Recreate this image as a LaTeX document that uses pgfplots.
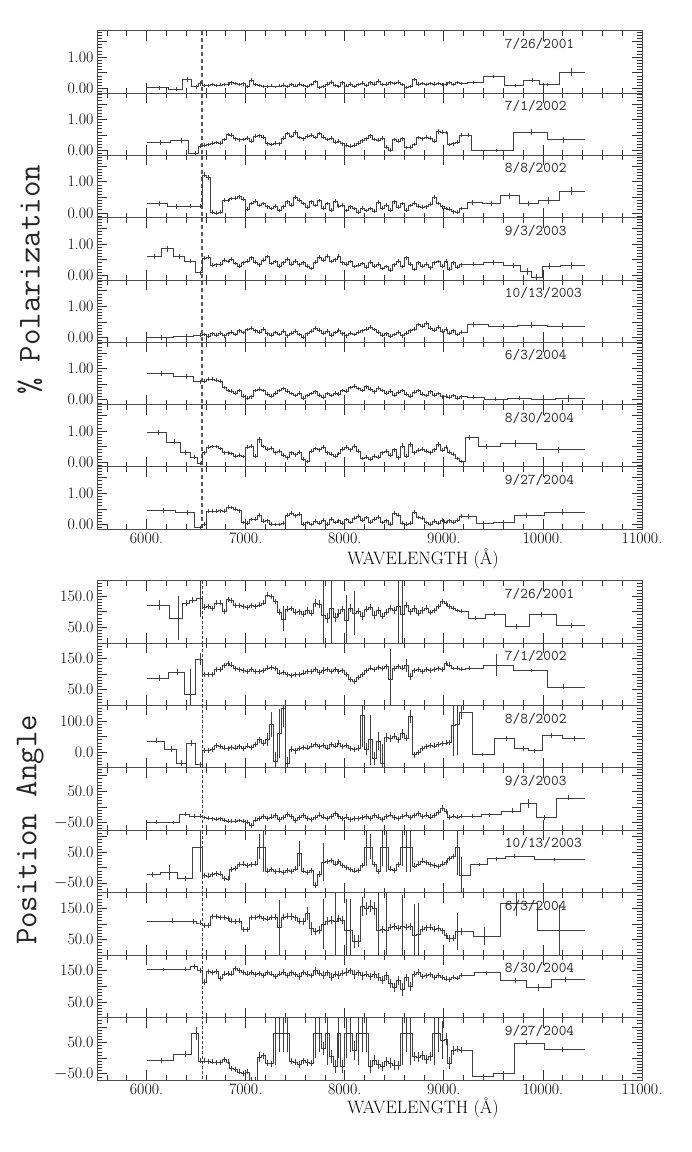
\documentclass[border=0pt]{standalone}
\usepackage{pgfplots}
\usepackage{pgfplotstable}
\pgfplotsset{compat=1.18}

\newcommand{\tickfont}{\fontsize{16}{16}\selectfont}
\newcommand{\datefont}{\ttfamily\fontsize{15}{15}\selectfont}
\newcommand{\datelabel}[1]{\node[anchor=west,font=\datefont,black!85] at (rel axis cs:0.742,0.79) {#1};}

\pgfplotsset{
  panel/.style={
    width=545bp, scale only axis, xmin=5500, xmax=11000,
    scaled x ticks=false, scaled y ticks=false,
    axis line style={black!70, line width=0.7bp},
    xtick={6000,7000,8000,9000,10000,11000},
    minor xtick={5600,5800,6200,6400,6600,6800,7200,7400,7600,7800,8200,8400,8600,8800,9200,9400,9600,9800,10200,10400,10600,10800},
    xticklabels={},
    tick align=inside, xtick pos=both, ytick pos=both,
    major tick length=10bp, minor tick length=5bp,
    every tick/.style={black!80, line width=0.7bp},
    tick label style={font=\tickfont},
    clip mode=individual,
    anchor=north west,
  },
  pol/.style={panel, height=62.3bp, ymin=-0.15, ymax=1.85,
    ytick={0,0.5,1,1.5}, yticklabels={0.00,,1.00,},
    minor ytick={-0.1,0.1,0.2,0.3,0.4,0.6,0.7,0.8,0.9,1.1,1.2,1.3,1.4,1.6,1.7,1.8}},
  pa/.style={panel, height=62.44bp, minor ytick={-70,-60,...,200}},
  pa0/.style={pa, ymin=0, ymax=200, ytick={0,50,100,150,200}, yticklabels={,50.0,,150.0,}},
  data/.style={black!75, line width=0.6bp, const plot mark mid, mark=none,
    error bars/y dir=both, error bars/y explicit, error bars/error mark=none,
    error bars/error bar style={line width=0.6bp}},
  halpha/.style={black!65, line width=1.7bp, dash pattern=on 4bp off 3bp},
  halphb/.style={black!75, line width=0.5bp, dash pattern=on 3bp off 2bp},
}

% ---------------- % polarization ----------------
\pgfplotstableread[row sep=\\]{
x y e\\
6000 .02 0\\ 6125 .02 .06\\ 6305 -.02 .05\\ 6410 .28 .07\\ 6500 .05 .06\\
6540 .15 .07\\ 6580 .10 .05\\ 6620 .10 .05\\ 6660 .12 .06\\ 6700 .10 .05\\ 6740 .11 .05\\ 6780 .12 .06\\ 6820 .14 .05\\ 6860 .18 .06\\ 6900 .16 .05\\
6940 .12 .05\\ 6980 .15 .06\\ 7020 .05 .05\\ 7060 .26 .06\\ 7100 .12 .05\\ 7140 .10 .05\\ 7180 .05 .05\\ 7220 .06 .04\\ 7260 .08 .05\\ 7300 .05 .04\\
7340 .08 .05\\ 7380 .10 .06\\ 7420 .06 .05\\ 7460 .12 .05\\ 7500 .08 .05\\ 7540 .14 .06\\ 7580 .10 .05\\ 7620 .06 .05\\ 7660 .12 .06\\ 7700 .22 .06\\
7740 .04 .05\\ 7780 .06 .05\\ 7820 .14 .06\\ 7860 .20 .06\\ 7900 .10 .05\\ 7940 .05 .05\\ 7980 .18 .06\\ 8020 .08 .05\\ 8060 .14 .05\\ 8100 .06 .05\\
8140 .12 .06\\ 8180 .16 .06\\ 8220 .10 .05\\ 8260 .18 .06\\ 8300 .14 .05\\ 8340 .24 .06\\ 8380 .12 .05\\ 8420 .14 .05\\ 8460 .18 .06\\ 8500 .16 .05\\
8540 .20 .06\\ 8580 .12 .05\\ 8620 .04 .05\\ 8660 .06 .05\\ 8700 .28 .06\\ 8740 .14 .05\\ 8780 .16 .05\\ 8820 .12 .05\\ 8860 .16 .05\\ 8900 .14 .05\\
8940 .16 .05\\ 8980 .12 .04\\ 9020 .14 .05\\ 9060 .18 .05\\ 9100 .12 .05\\ 9140 .20 .05\\ 9180 .16 .05\\
9300 .20 .05\\ 9495 .38 .06\\ 9718 .09 .06\\ 9895 .27 .07\\ 10040 .12 .06\\ 10282 .52 .12\\ 10426 .52 0\\
}\tPa

\pgfplotstableread[row sep=\\]{
x y e\\
6000 .27 0\\ 6135 .27 .08\\ 6350 .33 .07\\ 6495 -.08 .06\\
6540 .15 .06\\ 6580 .18 .06\\ 6620 .20 .06\\ 6660 .25 .06\\ 6700 .26 .06\\ 6740 .24 .06\\ 6780 .36 .06\\ 6820 .52 .06\\ 6860 .50 .06\\ 6900 .38 .06\\
6940 .35 .06\\ 6980 .36 .06\\ 7020 .40 .06\\ 7060 .30 .06\\ 7100 .46 .06\\ 7140 .48 .06\\ 7180 .44 .06\\ 7220 .22 .06\\ 7260 .20 .06\\ 7300 .24 .06\\
7340 .22 .06\\ 7380 .40 .06\\ 7420 .55 .06\\ 7460 .45 .06\\ 7500 .58 .07\\ 7540 .42 .06\\ 7580 .38 .06\\ 7620 .46 .06\\ 7660 .50 .06\\ 7700 .42 .06\\
7740 .55 .06\\ 7780 .44 .06\\ 7820 .36 .06\\ 7860 .40 .06\\ 7900 .28 .06\\ 7940 .30 .06\\ 7980 .22 .06\\ 8020 .18 .06\\ 8060 .15 .06\\ 8100 .18 .06\\
8140 .24 .06\\ 8180 .32 .06\\ 8220 .38 .06\\ 8260 .48 .06\\ 8300 .36 .06\\ 8340 .34 .06\\ 8380 .40 .06\\ 8420 .12 .06\\ 8460 .02 .06\\ 8500 .36 .06\\
8540 .30 .06\\ 8580 .38 .06\\ 8620 .10 .06\\ 8660 .12 .06\\ 8700 .20 .06\\ 8740 .42 .06\\ 8780 .38 .06\\ 8820 .44 .06\\ 8860 .40 .06\\ 8900 .30 .06\\
8940 .62 .08\\ 8980 .60 .06\\ 9020 .58 .06\\ 9060 .20 .06\\ 9100 .22 .06\\ 9140 .28 .06\\ 9180 .50 .07\\
9250 .50 .07\\ 9300 0 0\\ 9525 0 .06\\ 9878 .60 .10\\ 10210 .35 .10\\ 10426 .35 0\\
}\tPb

\pgfplotstableread[row sep=\\]{
x y e\\
6000 .30 0\\ 6125 .30 .07\\ 6300 .20 .08\\ 6440 .22 .06\\
6540 .22 .06\\ 6580 1.22 .08\\ 6620 1.15 .08\\ 6660 .02 .06\\ 6700 .00 .06\\ 6740 .02 .06\\ 6780 .42 .06\\ 6820 .40 .06\\ 6860 .46 .06\\ 6900 .48 .06\\
6940 .52 .06\\ 6980 .44 .06\\ 7020 .12 .06\\ 7060 .30 .06\\ 7100 .38 .06\\ 7140 .24 .06\\ 7180 .30 .06\\ 7220 .20 .06\\ 7260 .14 .06\\ 7300 .22 .06\\
7340 .08 .06\\ 7380 .20 .06\\ 7420 .36 .06\\ 7460 .26 .06\\ 7500 .50 .06\\ 7540 .42 .06\\ 7580 .30 .06\\ 7620 .18 .06\\ 7660 .36 .06\\ 7700 .24 .06\\
7740 .40 .06\\ 7780 .16 .06\\ 7820 .30 .06\\ 7860 .10 .06\\ 7900 .38 .06\\ 7940 .22 .06\\ 7980 .26 .06\\ 8020 .08 .06\\ 8060 .20 .06\\ 8100 .14 .06\\
8140 .02 .06\\ 8180 .16 .06\\ 8220 .08 .06\\ 8260 .14 .06\\ 8300 .06 .06\\ 8340 .34 .06\\ 8380 .16 .06\\ 8420 .26 .06\\ 8460 .10 .06\\ 8500 .36 .06\\
8540 .18 .06\\ 8580 .30 .06\\ 8620 .10 .06\\ 8660 .24 .06\\ 8700 .32 .06\\ 8740 .22 .06\\ 8780 .18 .06\\ 8820 .20 .06\\ 8860 .28 .06\\ 8900 .50 .06\\
8940 .30 .06\\ 8980 .20 .06\\ 9020 .14 .06\\ 9060 .12 .06\\ 9100 .04 .06\\ 9140 .02 .06\\ 9180 .14 .06\\
9290 .33 .07\\ 9480 .30 .07\\ 9660 .55 .10\\ 9855 .30 .08\\ 10050 .40 .10\\ 10290 .70 .14\\ 10426 .70 0\\
}\tPc

\pgfplotstableread[row sep=\\]{
x y e\\
6000 .60 0\\ 6080 .60 .08\\ 6210 .85 .10\\ 6330 .60 .08\\ 6440 .45 .07\\
6540 .08 .06\\ 6580 .55 .06\\ 6620 .58 .06\\ 6660 .32 .06\\ 6700 .34 .06\\ 6740 .36 .06\\ 6780 .48 .06\\ 6820 .44 .06\\ 6860 .52 .06\\ 6900 .38 .06\\
6940 .30 .06\\ 6980 .40 .06\\ 7020 .46 .06\\ 7060 .56 .06\\ 7100 .42 .06\\ 7140 .34 .06\\ 7180 .48 .06\\ 7220 .60 .06\\ 7260 .38 .06\\ 7300 .44 .06\\
7340 .30 .06\\ 7380 .40 .06\\ 7420 .52 .06\\ 7460 .36 .06\\ 7500 .46 .06\\ 7540 .34 .06\\ 7580 .40 .06\\ 7620 .30 .06\\ 7660 .22 .06\\ 7700 .42 .06\\
7740 .58 .06\\ 7780 .48 .06\\ 7820 .62 .06\\ 7860 .44 .06\\ 7900 .50 .06\\ 7940 .62 .06\\ 7980 .40 .06\\ 8020 .36 .06\\ 8060 .44 .06\\ 8100 .28 .06\\
8140 .32 .06\\ 8180 .38 .06\\ 8220 .26 .06\\ 8260 .42 .06\\ 8300 .30 .06\\ 8340 .36 .06\\ 8380 .22 .06\\ 8420 .28 .06\\ 8460 .16 .06\\ 8500 .34 .06\\
8540 .46 .06\\ 8580 .28 .06\\ 8620 .56 .06\\ 8660 .36 .06\\ 8700 .18 .06\\ 8740 .40 .06\\ 8780 .30 .06\\ 8820 .36 .06\\ 8860 .24 .06\\ 8900 .40 .06\\
8940 .44 .06\\ 8980 .30 .06\\ 9020 .46 .06\\ 9060 .20 .06\\ 9100 .40 .06\\ 9140 .26 .06\\ 9180 .34 .06\\
9300 .36 .07\\ 9500 .40 .08\\ 9700 .32 .08\\ 9840 .12 .10\\ 9935 -.08 .12\\ 10060 .30 .10\\ 10290 .32 .12\\ 10426 .32 0\\
}\tPd

\pgfplotstableread[row sep=\\]{
x y e\\
6000 0 0\\ 6150 0 .07\\ 6400 .05 .06\\
6540 .08 .06\\ 6580 .10 .06\\ 6620 .04 .06\\ 6660 .12 .06\\ 6700 .08 .06\\ 6740 .14 .06\\ 6780 .06 .06\\ 6820 .12 .06\\ 6860 .18 .06\\ 6900 .10 .06\\
6940 .22 .06\\ 6980 .16 .06\\ 7020 .26 .06\\ 7060 .30 .06\\ 7100 .22 .06\\ 7140 .18 .06\\ 7180 .28 .06\\ 7220 .12 .06\\ 7260 .08 .06\\ 7300 .16 .06\\
7340 .10 .06\\ 7380 .20 .06\\ 7420 .06 .06\\ 7460 .14 .06\\ 7500 .20 .06\\ 7540 .10 .06\\ 7580 .02 .06\\ 7620 .12 .06\\ 7660 .20 .06\\ 7700 .30 .06\\
7740 .24 .06\\ 7780 .14 .06\\ 7820 .20 .06\\ 7860 .08 .06\\ 7900 .16 .06\\ 7940 .24 .06\\ 7980 .12 .06\\ 8020 .06 .06\\ 8060 .14 .06\\ 8100 .10 .06\\
8140 .18 .06\\ 8180 .22 .06\\ 8220 .28 .06\\ 8260 .34 .06\\ 8300 .26 .06\\ 8340 .18 .06\\ 8380 .08 .06\\ 8420 .12 .06\\ 8460 .04 .06\\ 8500 .10 .06\\
8540 .18 .06\\ 8580 .06 .06\\ 8620 .14 .06\\ 8660 .22 .06\\ 8700 .28 .06\\ 8740 .42 .06\\ 8780 .36 .06\\ 8820 .46 .06\\ 8860 .30 .06\\ 8900 .24 .06\\
8940 .34 .06\\ 8980 .20 .06\\ 9020 .28 .06\\ 9060 .14 .06\\ 9100 .22 .06\\ 9140 .10 .06\\ 9180 .18 .06\\
9300 .42 .07\\ 9600 .36 .08\\ 9880 .40 .10\\ 10200 .36 .10\\ 10426 .36 0\\
}\tPe

\pgfplotstableread[row sep=\\]{
x y e\\
6000 .85 0\\ 6150 .85 .07\\ 6400 .75 .08\\
6540 .58 .06\\ 6580 .60 .06\\ 6620 .66 .06\\ 6660 .66 .06\\ 6700 .64 .06\\ 6740 .60 .06\\ 6780 .40 .06\\ 6820 .30 .06\\ 6860 .28 .06\\ 6900 .22 .06\\
6940 .30 .06\\ 6980 .12 .06\\ 7020 .06 .06\\ 7060 .10 .06\\ 7100 .30 .06\\ 7140 .34 .06\\ 7180 .30 .06\\ 7220 .18 .06\\ 7260 .12 .06\\ 7300 .22 .06\\
7340 .30 .06\\ 7380 .36 .06\\ 7420 .28 .06\\ 7460 .20 .06\\ 7500 .14 .06\\ 7540 .22 .06\\ 7580 .06 .06\\ 7620 .14 .06\\ 7660 .20 .06\\ 7700 .26 .06\\
7740 .16 .06\\ 7780 .08 .06\\ 7820 .20 .06\\ 7860 .14 .06\\ 7900 .22 .06\\ 7940 .18 .06\\ 7980 .30 .06\\ 8020 .28 .06\\ 8060 .40 .06\\ 8100 .44 .06\\
8140 .36 .06\\ 8180 .30 .06\\ 8220 .42 .06\\ 8260 .34 .06\\ 8300 .26 .06\\ 8340 .38 .06\\ 8380 .30 .06\\ 8420 .22 .06\\ 8460 .28 .06\\ 8500 .16 .06\\
8540 .24 .06\\ 8580 .30 .06\\ 8620 .18 .06\\ 8660 .12 .06\\ 8700 .24 .06\\ 8740 .30 .06\\ 8780 .18 .06\\ 8820 .14 .06\\ 8860 .26 .06\\ 8900 .16 .06\\
8940 .20 .06\\ 8980 .10 .06\\ 9020 .12 .06\\ 9060 .08 .06\\ 9100 .14 .06\\ 9140 .06 .06\\ 9180 .10 .06\\
9300 .08 .06\\ 9520 .02 .06\\ 9760 .05 .06\\ 10000 .03 .08\\ 10260 .04 .10\\ 10426 .04 0\\
}\tPf

\pgfplotstableread[row sep=\\]{
x y e\\
6000 .96 0\\ 6115 .96 .08\\ 6285 .65 .08\\ 6395 .31 .07\\ 6485 .16 .06\\
6540 -.04 .06\\ 6580 .30 .06\\ 6620 .48 .06\\ 6660 .50 .06\\ 6700 .50 .06\\ 6740 .44 .06\\ 6780 .30 .06\\ 6820 .30 .06\\ 6860 .28 .06\\ 6900 .20 .06\\
6940 .22 .06\\ 6980 .18 .06\\ 7020 .48 .06\\ 7060 .52 .06\\ 7100 .20 .06\\ 7140 .72 .10\\ 7180 .50 .06\\ 7220 .42 .06\\ 7260 .46 .06\\ 7300 .30 .06\\
7340 .36 .06\\ 7380 .22 .06\\ 7420 .14 .06\\ 7460 .30 .06\\ 7500 .24 .06\\ 7540 .32 .06\\ 7580 .10 .06\\ 7620 .02 .06\\ 7660 .36 .06\\ 7700 .44 .06\\
7740 .40 .06\\ 7780 .48 .06\\ 7820 .30 .06\\ 7860 .26 .06\\ 7900 .20 .06\\ 7940 .28 .06\\ 7980 .42 .06\\ 8020 .48 .06\\ 8060 .40 .06\\ 8100 .52 .06\\
8140 .36 .06\\ 8180 .12 .06\\ 8220 .16 .06\\ 8260 .10 .06\\ 8300 .20 .06\\ 8340 .16 .06\\ 8380 .30 .06\\ 8420 .36 .06\\ 8460 .22 .06\\ 8500 .40 .06\\
8540 .14 .06\\ 8580 .52 .08\\ 8620 .20 .06\\ 8660 .58 .08\\ 8700 .30 .06\\ 8740 .38 .06\\ 8780 .42 .06\\ 8820 .36 .06\\ 8860 .30 .06\\ 8900 .40 .06\\
8940 .56 .08\\ 8980 .38 .06\\ 9020 .48 .06\\ 9060 .32 .06\\ 9100 .26 .06\\ 9140 .12 .06\\ 9180 .02 .06\\
9260 .80 .08\\ 9430 .50 .08\\ 9720 .60 .10\\ 10155 .40 .10\\ 10426 .40 0\\
}\tPg

\pgfplotstableread[row sep=\\]{
x y e\\
6000 .45 0\\ 6165 .45 .07\\ 6415 .38 .07\\
6540 -.10 .06\\ 6580 .02 .06\\ 6620 .42 .06\\ 6660 .42 .06\\ 6700 .42 .06\\ 6740 .44 .06\\ 6780 .42 .06\\ 6820 .56 .06\\ 6860 .54 .06\\ 6900 .50 .06\\
6940 .44 .06\\ 6980 .06 .06\\ 7020 .04 .06\\ 7060 .16 .06\\ 7100 .18 .06\\ 7140 .30 .06\\ 7180 .10 .06\\ 7220 .12 .06\\ 7260 .02 .06\\ 7300 .00 .06\\
7340 .00 .06\\ 7380 .04 .06\\ 7420 .30 .06\\ 7460 .36 .06\\ 7500 .28 .06\\ 7540 .34 .06\\ 7580 .02 .06\\ 7620 .06 .06\\ 7660 .00 .06\\ 7700 .10 .06\\
7740 .04 .06\\ 7780 .14 .06\\ 7820 .02 .06\\ 7860 .18 .06\\ 7900 .06 .06\\ 7940 .12 .06\\ 7980 .04 .06\\ 8020 .16 .06\\ 8060 .06 .06\\ 8100 .20 .06\\
8140 .26 .06\\ 8180 .14 .06\\ 8220 .22 .06\\ 8260 .08 .06\\ 8300 .18 .06\\ 8340 .24 .06\\ 8380 .06 .06\\ 8420 .12 .06\\ 8460 .02 .06\\ 8500 .36 .06\\
8540 .30 .06\\ 8580 .04 .06\\ 8620 .02 .06\\ 8660 .04 .06\\ 8700 .40 .06\\ 8740 .22 .06\\ 8780 .20 .06\\ 8820 .06 .06\\ 8860 .02 .06\\ 8900 .10 .06\\
8940 .04 .06\\ 8980 .14 .06\\ 9020 .06 .06\\ 9060 .12 .06\\ 9100 .08 .06\\ 9140 .14 .06\\ 9180 .26 .06\\
9250 .26 .07\\ 9400 .05 .06\\ 9600 .07 .07\\ 9830 .30 .08\\ 10195 .40 .10\\ 10426 .40 0\\
}\tPh

% ---------------- position angle ----------------
\pgfplotstableread[row sep=\\]{
x y e\\
6000 121 0\\ 6130 121 15\\ 6320 79 70\\ 6400 128 10\\ 6460 137 10\\
6540 142 60\\ 6580 115 10\\ 6620 118 8\\ 6660 110 8\\ 6700 128 8\\ 6740 128 8\\ 6780 102 8\\ 6820 139 8\\ 6860 136 8\\ 6900 121 8\\
6940 121 8\\ 6980 118 8\\ 7020 115 8\\ 7060 120 8\\ 7100 118 8\\ 7140 122 8\\ 7180 128 8\\ 7220 154 8\\ 7260 148 8\\ 7300 133 8\\
7340 98 10\\ 7380 77 40\\ 7420 108 10\\ 7460 110 8\\ 7500 98 10\\ 7540 100 10\\ 7580 92 10\\ 7620 104 10\\ 7660 96 10\\ 7700 128 12\\
7740 124 12\\ 7780 88 150\\ 7820 80 15\\ 7860 112 150\\ 7900 82 15\\ 7940 96 12\\ 7980 108 10\\ 8020 74 80\\ 8060 112 12\\ 8100 96 70\\
8140 102 10\\ 8180 86 12\\ 8220 108 10\\ 8260 114 10\\ 8300 90 12\\ 8340 104 10\\ 8380 86 10\\ 8420 98 10\\ 8460 112 10\\ 8500 104 10\\
8540 118 150\\ 8580 92 150\\ 8620 122 10\\ 8660 100 10\\ 8700 110 10\\ 8740 96 10\\ 8780 104 10\\ 8820 112 8\\ 8860 98 8\\ 8900 104 8\\
8940 118 8\\ 8980 134 8\\ 9020 126 8\\ 9060 118 8\\ 9100 112 6\\ 9140 104 6\\ 9180 102 6\\
9320 79 6\\ 9510 92 6\\ 9728 52 8\\ 9988 92 8\\ 10282 56 8\\ 10426 56 0\\
}\tAa

\pgfplotstableread[row sep=\\]{
x y e\\
6000 87 0\\ 6125 87 10\\ 6315 106 10\\ 6440 37 80\\
6540 148 20\\ 6580 100 8\\ 6620 98 8\\ 6660 100 8\\ 6700 114 8\\ 6740 114 8\\ 6780 128 8\\ 6820 135 8\\ 6860 130 8\\ 6900 118 8\\
6940 114 8\\ 6980 112 8\\ 7020 110 8\\ 7060 116 8\\ 7100 108 8\\ 7140 110 8\\ 7180 112 8\\ 7220 120 8\\ 7260 122 8\\ 7300 118 8\\
7340 104 8\\ 7380 106 8\\ 7420 98 8\\ 7460 96 8\\ 7500 100 8\\ 7540 98 8\\ 7580 104 8\\ 7620 110 8\\ 7660 108 8\\ 7700 114 8\\
7740 106 8\\ 7780 112 10\\ 7820 116 8\\ 7860 108 8\\ 7900 114 8\\ 7940 110 8\\ 7980 112 8\\ 8020 98 8\\ 8060 84 8\\ 8100 76 8\\
8140 90 8\\ 8180 100 8\\ 8220 112 8\\ 8260 120 8\\ 8300 116 8\\ 8340 122 8\\ 8380 118 8\\ 8420 124 8\\ 8460 82 100\\ 8500 118 8\\
8540 126 8\\ 8580 120 8\\ 8620 128 20\\ 8660 92 12\\ 8700 112 8\\ 8740 116 8\\ 8780 110 8\\ 8820 114 8\\ 8860 112 8\\ 8900 116 8\\
8940 118 8\\ 8980 114 8\\ 9020 134 8\\ 9060 130 8\\ 9100 118 6\\ 9140 120 6\\ 9180 116 6\\
9260 120 6\\ 9530 130 35\\ 9878 112 6\\ 10210 59 8\\ 10426 59 0\\
}\tAb

\pgfplotstableread[row sep=\\]{
x y e\\
6000 36 0\\ 6100 36 8\\ 6250 10 10\\ 6350 -34 10\\ 6450 29 10\\
6540 -40 10\\ 6580 5 8\\ 6620 6 8\\ 6660 10 8\\ 6700 21 8\\ 6740 18 8\\ 6780 14 8\\ 6820 12 8\\ 6860 16 8\\ 6900 14 8\\
6940 18 8\\ 6980 12 8\\ 7020 20 8\\ 7060 16 8\\ 7100 26 8\\ 7140 40 10\\ 7180 30 10\\ 7220 40 20\\ 7260 88 40\\ 7300 -30 30\\
7340 60 80\\ 7380 140 60\\ 7420 -35 20\\ 7460 10 10\\ 7500 5 10\\ 7540 12 8\\ 7580 16 8\\ 7620 14 8\\ 7660 20 8\\ 7700 24 8\\
7740 18 8\\ 7780 22 8\\ 7820 14 8\\ 7860 26 8\\ 7900 20 8\\ 7940 30 8\\ 7980 18 8\\ 8020 22 8\\ 8060 12 8\\ 8100 8 8\\
8140 14 10\\ 8180 118 100\\ 8220 10 20\\ 8260 40 80\\ 8300 -20 20\\ 8340 36 30\\ 8380 -35 60\\ 8420 48 15\\ 8460 44 10\\ 8500 52 10\\
8540 40 10\\ 8580 60 15\\ 8620 46 10\\ 8660 115 20\\ 8700 -8 10\\ 8740 0 8\\ 8780 12 8\\ 8820 18 8\\ 8860 22 8\\ 8900 20 8\\
8940 26 8\\ 8980 28 8\\ 9020 30 8\\ 9060 32 8\\ 9100 87 100\\ 9140 90 100\\ 9180 128 20\\
9385 -7 6\\ 9630 43 8\\ 9800 12 8\\ 9915 5 6\\ 10080 53 8\\ 10315 43 8\\ 10426 43 0\\
}\tAc

\pgfplotstableread[row sep=\\]{
x y e\\
6000 -49 0\\ 6100 -49 6\\ 6265 -50 6\\ 6390 -24 6\\ 6480 -30 6\\
6540 -30 6\\ 6580 -34 6\\ 6620 -36 6\\ 6660 -38 6\\ 6700 -40 6\\ 6740 -38 6\\ 6780 -42 6\\ 6820 -46 6\\ 6860 -45 6\\ 6900 -46 6\\
6940 -44 6\\ 6980 -46 6\\ 7020 -48 6\\ 7060 -60 8\\ 7100 -42 8\\ 7140 -36 8\\ 7180 -30 8\\ 7220 -38 8\\ 7260 -32 8\\ 7300 -28 8\\
7340 -40 8\\ 7380 -34 8\\ 7420 -24 8\\ 7460 -30 8\\ 7500 -44 8\\ 7540 -34 8\\ 7580 -28 8\\ 7620 -36 8\\ 7660 -40 8\\ 7700 -34 8\\
7740 -26 8\\ 7780 -32 8\\ 7820 -36 8\\ 7860 -30 8\\ 7900 -22 8\\ 7940 -30 8\\ 7980 -36 8\\ 8020 -32 8\\ 8060 -40 8\\ 8100 -36 8\\
8140 -38 8\\ 8180 -34 8\\ 8220 -30 8\\ 8260 -36 8\\ 8300 -28 8\\ 8340 -32 8\\ 8380 -40 8\\ 8420 -30 8\\ 8460 -26 8\\ 8500 -34 8\\
8540 -38 8\\ 8580 -30 8\\ 8620 -26 8\\ 8660 -34 8\\ 8700 -28 8\\ 8740 -22 8\\ 8780 -30 8\\ 8820 -26 8\\ 8860 -32 8\\ 8900 -28 8\\
8940 -18 8\\ 8980 -4 10\\ 9020 -14 8\\ 9060 -34 8\\ 9100 -30 6\\ 9140 -32 6\\ 9180 -30 6\\
9290 -30 6\\ 9460 -25 6\\ 9695 -13 8\\ 9850 10 14\\ 10012 -35 8\\ 10255 29 8\\ 10426 29 0\\
}\tAd

\pgfplotstableread[row sep=\\]{
x y e\\
6000 -21 0\\ 6060 -21 8\\ 6225 -15 25\\ 6390 -33 8\\
6540 67 80\\ 6580 -25 8\\ 6620 -26 8\\ 6660 -22 8\\ 6700 -18 8\\ 6740 -20 8\\ 6780 -35 8\\ 6820 -36 8\\ 6860 -6 8\\ 6900 -3 8\\
6940 10 8\\ 6980 12 8\\ 7020 8 8\\ 7060 10 8\\ 7100 12 8\\ 7140 67 40\\ 7180 67 80\\ 7220 -10 8\\ 7260 -6 8\\ 7300 -12 8\\
7340 -10 8\\ 7380 -14 8\\ 7420 -8 8\\ 7460 -12 8\\ 7500 -4 8\\ 7540 45 40\\ 7580 -10 8\\ 7620 -14 8\\ 7660 -8 8\\ 7700 -55 10\\
7740 -20 10\\ 7780 18 60\\ 7820 21 8\\ 7860 24 8\\ 7900 12 8\\ 7940 20 8\\ 7980 8 8\\ 8020 2 8\\ 8060 -6 8\\ 8100 -10 8\\
8140 -8 8\\ 8180 8 8\\ 8220 67 60\\ 8260 67 40\\ 8300 10 8\\ 8340 -12 8\\ 8380 67 60\\ 8420 67 80\\ 8460 -4 8\\ 8500 -8 8\\
8540 10 8\\ 8580 67 60\\ 8620 67 80\\ 8660 67 80\\ 8700 6 8\\ 8740 12 8\\ 8780 22 8\\ 8820 16 8\\ 8860 10 8\\ 8900 8 8\\
8940 4 8\\ 8980 12 8\\ 9020 16 8\\ 9060 30 8\\ 9100 36 8\\ 9140 67 90\\ 9180 -25 60\\
9355 10 6\\ 9530 29 6\\ 9715 38 6\\ 10115 26 6\\ 10426 26 0\\
}\tAe

\pgfplotstableread[row sep=\\]{
x y e\\
6000 110 0\\ 6260 110 8\\ 6470 108 8\\
6540 103 8\\ 6580 96 8\\ 6620 96 8\\ 6660 125 8\\ 6700 125 8\\ 6740 120 8\\ 6780 122 8\\ 6820 118 8\\ 6860 110 8\\ 6900 108 8\\
6940 110 8\\ 6980 82 8\\ 7020 82 8\\ 7060 120 8\\ 7100 122 8\\ 7140 124 8\\ 7180 118 8\\ 7220 116 8\\ 7260 120 8\\ 7300 122 10\\
7340 88 90\\ 7380 122 10\\ 7420 126 10\\ 7460 124 10\\ 7500 120 10\\ 7540 110 10\\ 7580 108 10\\ 7620 133 20\\ 7660 85 20\\ 7700 75 12\\
7740 80 12\\ 7780 100 80\\ 7820 110 12\\ 7860 112 12\\ 7900 108 120\\ 7940 118 12\\ 7980 112 12\\ 8020 79 100\\ 8060 80 100\\ 8100 43 20\\
8140 45 20\\ 8180 155 30\\ 8220 150 20\\ 8260 158 20\\ 8300 150 20\\ 8340 79 120\\ 8380 82 12\\ 8420 79 150\\ 8460 90 10\\ 8500 92 10\\
8540 86 10\\ 8580 94 100\\ 8620 90 10\\ 8660 92 10\\ 8700 64 100\\ 8740 68 100\\ 8780 84 10\\ 8820 88 10\\ 8860 90 10\\ 8900 84 10\\
8940 86 10\\ 8980 78 10\\ 9020 62 10\\ 9060 53 10\\ 9100 55 10\\ 9140 75 60\\ 9180 76 10\\
9410 61 30\\ 9730 165 40\\ 10165 80 80\\ 10426 80 0\\
}\tAf

\pgfplotstableread[row sep=\\]{
x y e\\
6000 154 0\\ 6165 154 6\\ 6390 156 6\\ 6485 164 8\\
6540 150 8\\ 6580 114 10\\ 6620 147 8\\ 6660 146 8\\ 6700 148 8\\ 6740 126 8\\ 6780 140 8\\ 6820 142 8\\ 6860 140 8\\ 6900 158 8\\
6940 150 8\\ 6980 144 8\\ 7020 140 8\\ 7060 146 8\\ 7100 138 8\\ 7140 142 8\\ 7180 136 8\\ 7220 144 8\\ 7260 140 8\\ 7300 132 8\\
7340 140 8\\ 7380 146 10\\ 7420 136 8\\ 7460 144 10\\ 7500 138 8\\ 7540 132 10\\ 7580 146 8\\ 7620 140 10\\ 7660 134 8\\ 7700 150 12\\
7740 142 10\\ 7780 136 12\\ 7820 144 10\\ 7860 130 12\\ 7900 140 10\\ 7940 136 12\\ 7980 142 10\\ 8020 146 12\\ 8060 150 10\\ 8100 138 14\\
8140 144 10\\ 8180 134 12\\ 8220 140 10\\ 8260 132 12\\ 8300 138 10\\ 8340 130 12\\ 8380 120 12\\ 8420 134 12\\ 8460 110 15\\ 8500 96 15\\
8540 118 15\\ 8580 90 20\\ 8620 128 12\\ 8660 100 15\\ 8700 140 10\\ 8740 146 10\\ 8780 132 8\\ 8820 136 8\\ 8860 138 8\\ 8900 130 8\\
8940 134 8\\ 8980 128 8\\ 9020 124 8\\ 9060 122 8\\ 9100 130 6\\ 9140 126 6\\ 9180 136 6\\
9430 144 6\\ 9720 118 8\\ 9950 96 10\\ 10225 123 8\\ 10426 123 0\\
}\tAg

\pgfplotstableread[row sep=\\]{
x y e\\
6000 -6 0\\ 6150 -6 8\\ 6390 13 10\\ 6505 79 20\\
6540 -9 8\\ 6580 -9 8\\ 6620 -10 8\\ 6660 -12 8\\ 6700 -13 8\\ 6740 -14 8\\ 6780 -3 8\\ 6820 -12 8\\ 6860 -33 8\\ 6900 -36 8\\
6940 -44 8\\ 6980 -48 8\\ 7020 -44 8\\ 7060 -70 10\\ 7100 -70 10\\ 7140 4 15\\ 7180 8 10\\ 7220 -16 10\\ 7260 -18 10\\ 7300 79 100\\
7340 79 60\\ 7380 79 60\\ 7420 79 60\\ 7460 -10 10\\ 7500 -12 10\\ 7540 -20 10\\ 7580 -8 10\\ 7620 -14 10\\ 7660 -16 10\\ 7700 79 80\\
7740 79 60\\ 7780 31 20\\ 7820 79 100\\ 7860 6 20\\ 7900 -26 20\\ 7940 79 80\\ 7980 -26 20\\ 8020 79 80\\ 8060 79 60\\ 8100 25 30\\
8140 79 100\\ 8180 79 60\\ 8220 79 60\\ 8260 -27 20\\ 8300 -6 15\\ 8340 -20 15\\ 8380 -27 15\\ 8420 -10 15\\ 8460 -16 15\\ 8500 -22 15\\
8540 -24 15\\ 8580 79 100\\ 8620 79 60\\ 8660 79 100\\ 8700 6 15\\ 8740 4 15\\ 8780 8 15\\ 8820 -4 15\\ 8860 6 15\\ 8900 79 100\\
8940 79 60\\ 8980 58 60\\ 9020 62 20\\ 9060 -16 20\\ 9100 25 15\\ 9140 30 10\\ 9180 25 10\\
9400 -59 8\\ 9600 -50 8\\ 9830 49 8\\ 10195 28 8\\ 10426 28 0\\
}\tAh

\begin{document}
\begin{tikzpicture}
\path[use as bounding box] (0,0) rectangle (692bp,-1152bp);

% ======== top group: % polarization ========
\begin{axis}[pol, at={(97bp,-30.7bp)}]
  \addplot[halpha] coordinates {(6563,-1) (6563,3)};
  \addplot[data] table[x=x,y=y,y error=e] {\tPa};
  \datelabel{7/26/2001}
\end{axis}
\begin{axis}[pol, at={(97bp,-93.0bp)}]
  \addplot[halpha] coordinates {(6563,-1) (6563,3)};
  \addplot[data] table[x=x,y=y,y error=e] {\tPb};
  \datelabel{7/1/2002}
\end{axis}
\begin{axis}[pol, at={(97bp,-155.3bp)}]
  \addplot[halpha] coordinates {(6563,-1) (6563,3)};
  \addplot[data] table[x=x,y=y,y error=e] {\tPc};
  \datelabel{8/8/2002}
\end{axis}
\begin{axis}[pol, at={(97bp,-217.6bp)}]
  \addplot[halpha] coordinates {(6563,-1) (6563,3)};
  \addplot[data] table[x=x,y=y,y error=e] {\tPd};
  \datelabel{9/3/2003}
\end{axis}
\begin{axis}[pol, at={(97bp,-279.9bp)}]
  \addplot[halpha] coordinates {(6563,-1) (6563,3)};
  \addplot[data] table[x=x,y=y,y error=e] {\tPe};
  \datelabel{10/13/2003}
\end{axis}
\begin{axis}[pol, at={(97bp,-342.2bp)}]
  \addplot[halpha] coordinates {(6563,-1) (6563,3)};
  \addplot[data] table[x=x,y=y,y error=e] {\tPf};
  \datelabel{6/3/2004}
\end{axis}
\begin{axis}[pol, at={(97bp,-404.5bp)}]
  \addplot[halpha] coordinates {(6563,-1) (6563,3)};
  \addplot[data] table[x=x,y=y,y error=e] {\tPg};
  \datelabel{8/30/2004}
\end{axis}
\begin{axis}[pol, at={(97bp,-466.8bp)},
  xticklabels={6000.,7000.,8000.,9000.,10000.,11000.}]
  \addplot[halpha] coordinates {(6563,-1) (6563,3)};
  \addplot[data] table[x=x,y=y,y error=e] {\tPh};
  \datelabel{9/27/2004}
\end{axis}

% ======== bottom group: position angle ========
\begin{axis}[pa0, at={(97bp,-580.5bp)}]
  \addplot[halphb] coordinates {(6563,-100) (6563,300)};
  \addplot[data] table[x=x,y=y,y error=e] {\tAa};
  \datelabel{7/26/2001}
\end{axis}
\begin{axis}[pa0, at={(97bp,-642.94bp)}]
  \addplot[halphb] coordinates {(6563,-100) (6563,300)};
  \addplot[data] table[x=x,y=y,y error=e] {\tAb};
  \datelabel{7/1/2002}
\end{axis}
\begin{axis}[pa, at={(97bp,-705.38bp)}, ymin=-50, ymax=150,
  ytick={-50,0,50,100,150}, yticklabels={,0.0,,100.0,}]
  \addplot[halphb] coordinates {(6563,-100) (6563,300)};
  \addplot[data] table[x=x,y=y,y error=e] {\tAc};
  \datelabel{8/8/2002}
\end{axis}
\begin{axis}[pa, at={(97bp,-767.82bp)}, ymin=-75, ymax=125,
  ytick={-50,0,50,100}, yticklabels={$-$50.0,,50.0,}]
  \addplot[halphb] coordinates {(6563,-100) (6563,300)};
  \addplot[data] table[x=x,y=y,y error=e] {\tAd};
  \datelabel{9/3/2003}
\end{axis}
\begin{axis}[pa, at={(97bp,-830.26bp)}, ymin=-80, ymax=120,
  ytick={-50,0,50,100}, yticklabels={$-$50.0,,50.0,}]
  \addplot[halphb] coordinates {(6563,-100) (6563,300)};
  \addplot[data] table[x=x,y=y,y error=e] {\tAe};
  \datelabel{10/13/2003}
\end{axis}
\begin{axis}[pa0, at={(97bp,-892.7bp)}]
  \addplot[halphb] coordinates {(6563,-100) (6563,300)};
  \addplot[data] table[x=x,y=y,y error=e] {\tAf};
  \datelabel{6/3/2004}
\end{axis}
\begin{axis}[pa0, at={(97bp,-955.14bp)}]
  \addplot[halphb] coordinates {(6563,-100) (6563,300)};
  \addplot[data] table[x=x,y=y,y error=e] {\tAg};
  \datelabel{8/30/2004}
\end{axis}
\begin{axis}[pa, at={(97bp,-1017.58bp)}, ymin=-70, ymax=130,
  ytick={-50,0,50,100}, yticklabels={$-$50.0,,50.0,},
  xticklabels={6000.,7000.,8000.,9000.,10000.,11000.}]
  \addplot[halphb] coordinates {(6563,-100) (6563,300)};
  \addplot[data] table[x=x,y=y,y error=e] {\tAh};
  \datelabel{9/27/2004}
\end{axis}

% axis titles
\node[rotate=90, font=\ttfamily\fontsize{32}{32}\selectfont, black!85] at (30bp,-280bp) {\% Polarization};
\node[rotate=90, font=\ttfamily\fontsize{32}{32}\selectfont, black!85] at (30bp,-830bp) {Position Angle};
\node[font=\fontsize{18}{18}\selectfont] at (423bp,-559bp) {WAVELENGTH (Å)};
\node[font=\fontsize{18}{18}\selectfont] at (423bp,-1108bp) {WAVELENGTH (Å)};
\end{tikzpicture}
\end{document}
